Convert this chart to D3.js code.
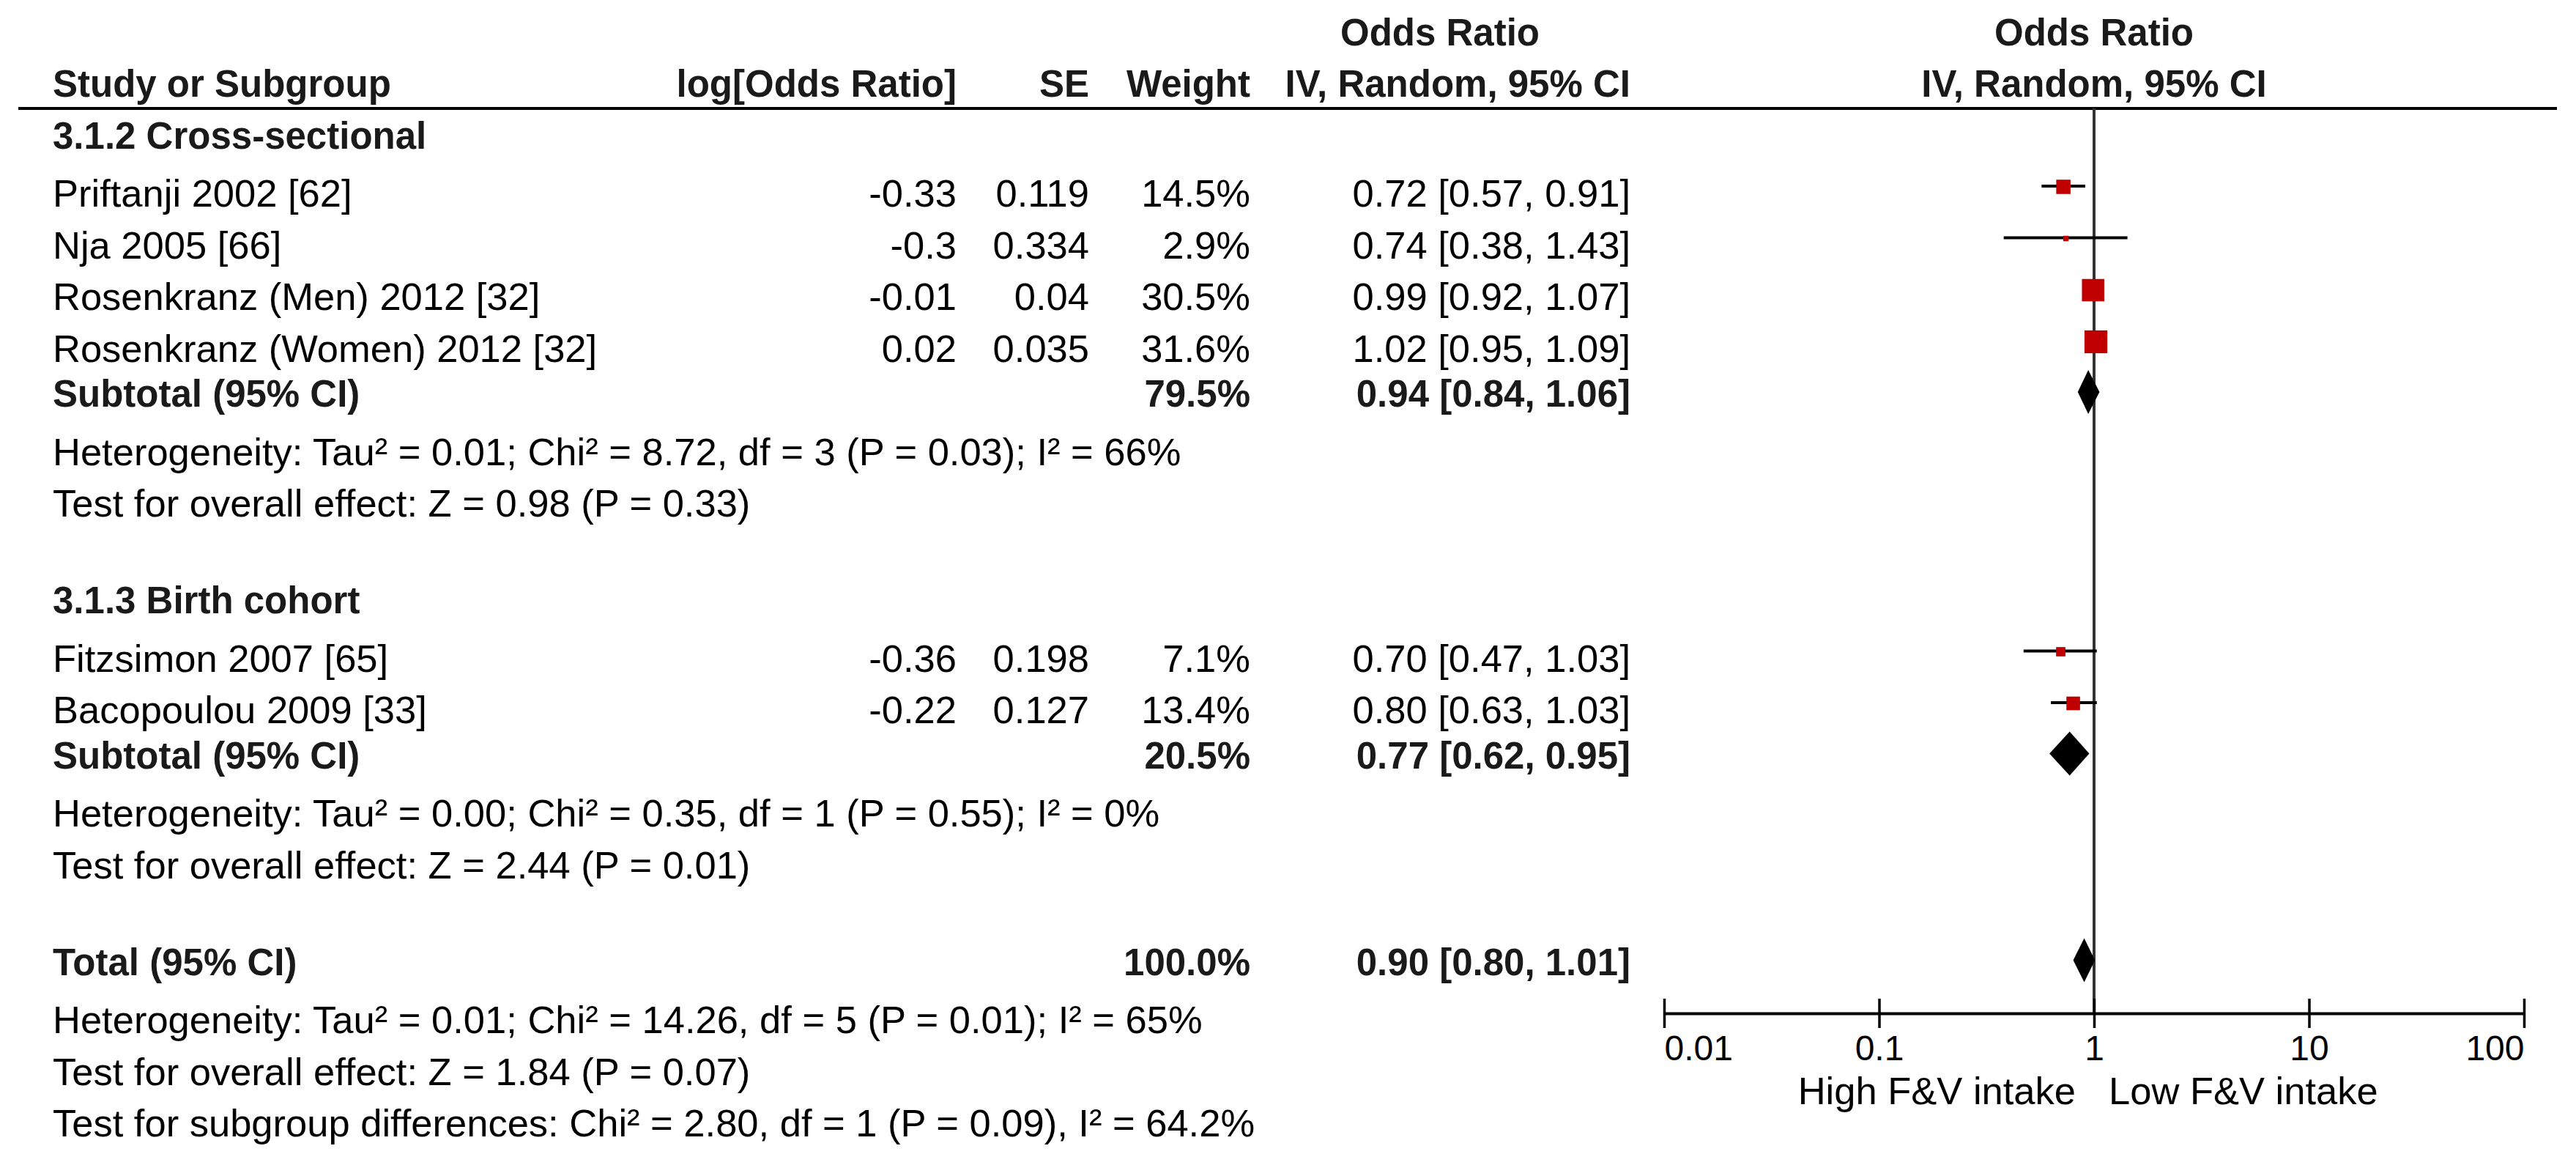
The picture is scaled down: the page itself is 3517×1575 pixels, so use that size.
<!DOCTYPE html>
<html lang="en">
  <head>
    <meta charset="utf-8">
    <title>Forest plot - F&amp;V intake</title>
    <script src="https://cdn.jsdelivr.net/npm/d3@7"></script>
    <style type="text/css">
      body { margin: 0; background: #fff; }
      text { font-family: "Liberation Sans", Arial, sans-serif; }
      .reg { font-size: 52.5px; fill: #000; }
      .bold { font-size: 51px; font-weight: bold; fill: #1a1a1a; }
      .tickLabel { font-size: 48px; fill: #000; }
      .ci { stroke: #000; stroke-width: 4; }
      .box { fill: #c00000; }
      .diamond { fill: #000; }
    </style>
  </head>
  <body>
    <svg id="plot" width="3517" height="1575"></svg>
    <script type="text/javascript">
      // study rows
      var studyNames = ["Priftanji 2002 [62]", "Nja 2005 [66]", "Rosenkranz (Men) 2012 [32]",
                        "Rosenkranz (Women) 2012 [32]", "Fitzsimon 2007 [65]", "Bacopoulou 2009 [33]"];
      var studyGroup = [0, 0, 0, 0, 1, 1];
      var logOR = [-0.33, -0.3, -0.01, 0.02, -0.36, -0.22];
      var seVals = [0.119, 0.334, 0.04, 0.035, 0.198, 0.127];
      var weights = [14.5, 2.9, 30.5, 31.6, 7.1, 13.4];
      var orVals = [0.72, 0.74, 0.99, 1.02, 0.70, 0.80];
      var orLow = [0.57, 0.38, 0.92, 0.95, 0.47, 0.63];
      var orHigh = [0.91, 1.43, 1.07, 1.09, 1.03, 1.03];

      // subgroups
      var groupNames = ["3.1.2 Cross-sectional", "3.1.3 Birth cohort"];
      var subWeight = [79.5, 20.5];
      var subOR = [0.94, 0.77];
      var subLow = [0.84, 0.62];
      var subHigh = [1.06, 0.95];
      var hetTau = ["0.01", "0.00"];
      var hetChi = ["8.72", "0.35"];
      var hetDf = [3, 1];
      var hetP = ["0.03", "0.55"];
      var hetI2 = ["66%", "0%"];
      var effZ = ["0.98", "2.44"];
      var effP = ["0.33", "0.01"];

      // overall
      var totalWeight = 100.0;
      var totalOR = 0.90, totalLow = 0.80, totalHigh = 1.01;
      var totalHet = {tau: "0.01", chi: "14.26", df: 5, p: "0.01", i2: "65%"};
      var totalEff = {z: "1.84", p: "0.07"};
      var diffTest = {chi: "2.80", df: 1, p: "0.09", i2: "64.2%"};

      // axis
      var axisTicks = [0.01, 0.1, 1, 10, 100];
      var axisTickLabels = ["0.01", "0.1", "1", "10", "100"];
      var favourLeft = "High F&V intake", favourRight = "Low F&V intake";

      var svg = d3.select("#plot");
      var fmt2 = d3.format(".2f"), fmtW = function(w) { return d3.format(".1f")(w) + "%"; };

      // work out which row everything sits on
      var row = 2, titleRow = [], studyRow = [], subRow = [], hetRow = [], testRow = [];
      groupNames.forEach(function(g, gi) {
        titleRow[gi] = row++;
        studyGroup.forEach(function(sg, si) { if (sg === gi) studyRow[si] = row++; });
        subRow[gi] = row++;
        hetRow[gi] = row++;
        testRow[gi] = row++;
        row++; // blank line
      });
      var totalRow = row++, totalHetRow = row++, totalTestRow = row++, diffRow = row++;

      var y = d3.scaleLinear().domain([0, 21]).range([42.5, 42.5 + 21 * 70.5]);
      var x = d3.scaleLog().domain([0.01, 100]).range([2272, 3446]);
      var size = d3.scalePow().exponent(0.6).domain([0, 30.5]).range([0, 30.5]);

      var col = {name: 72, logor: 1306, se: 1487, weight: 1707, ci: 2226, orHead: 1966},
          headLineY = 148,
          axisY = 1383;

      function addText(str, xPos, r, bold, anchor) {
        return svg.append("text")
          .attr("class", bold ? "bold" : "reg")
          .attr("x", xPos)
          .attr("y", y(r) + (bold ? 19 : 28))
          .attr("text-anchor", anchor || "start")
          .text(str);
      }
      function ciText(o, l, h) { return fmt2(o) + " [" + fmt2(l) + ", " + fmt2(h) + "]"; }
      function hetText(t, c, df, p, i2) {
        return "Heterogeneity: Tau\u00b2 = " + t + "; Chi\u00b2 = " + c + ", df = " + df +
               " (P = " + p + "); I\u00b2 = " + i2;
      }
      function effText(z, p) { return "Test for overall effect: Z = " + z + " (P = " + p + ")"; }

      // headers
      addText("Odds Ratio", col.orHead, 0, true, "middle");
      addText("Odds Ratio", x(1), 0, true, "middle");
      addText("Study or Subgroup", col.name, 1, true);
      addText("log[Odds Ratio]", col.logor, 1, true, "end");
      addText("SE", col.se, 1, true, "end");
      addText("Weight", col.weight, 1, true, "end");
      addText("IV, Random, 95% CI", col.ci, 1, true, "end");
      addText("IV, Random, 95% CI", x(1), 1, true, "middle");

      svg.append("line")
        .attr("x1", 25).attr("x2", 3491)
        .attr("y1", headLineY).attr("y2", headLineY)
        .attr("stroke", "#000").attr("stroke-width", 4);

      // null line
      svg.append("line")
        .attr("x1", x(1)).attr("x2", x(1))
        .attr("y1", headLineY).attr("y2", axisY)
        .attr("stroke", "#333").attr("stroke-width", 4);

      // subgroup text blocks
      groupNames.forEach(function(g, gi) {
        addText(g, col.name, titleRow[gi], true);
        addText("Subtotal (95% CI)", col.name, subRow[gi], true);
        addText(fmtW(subWeight[gi]), col.weight, subRow[gi], true, "end");
        addText(ciText(subOR[gi], subLow[gi], subHigh[gi]), col.ci, subRow[gi], true, "end");
        addText(hetText(hetTau[gi], hetChi[gi], hetDf[gi], hetP[gi], hetI2[gi]), col.name, hetRow[gi], false);
        addText(effText(effZ[gi], effP[gi]), col.name, testRow[gi], false);
      });

      // study text columns
      studyNames.forEach(function(s, i) {
        var r = studyRow[i];
        addText(s, col.name, r, false);
        addText(String(logOR[i]), col.logor, r, false, "end");
        addText(String(seVals[i]), col.se, r, false, "end");
        addText(fmtW(weights[i]), col.weight, r, false, "end");
        addText(ciText(orVals[i], orLow[i], orHigh[i]), col.ci, r, false, "end");
      });

      // totals
      addText("Total (95% CI)", col.name, totalRow, true);
      addText(fmtW(totalWeight), col.weight, totalRow, true, "end");
      addText(ciText(totalOR, totalLow, totalHigh), col.ci, totalRow, true, "end");
      addText(hetText(totalHet.tau, totalHet.chi, totalHet.df, totalHet.p, totalHet.i2), col.name, totalHetRow, false);
      addText(effText(totalEff.z, totalEff.p), col.name, totalTestRow, false);
      addText("Test for subgroup differences: Chi\u00b2 = " + diffTest.chi + ", df = " + diffTest.df +
              " (P = " + diffTest.p + "), I\u00b2 = " + diffTest.i2, col.name, diffRow, false);

      // study CIs and boxes
      var idx = d3.range(studyNames.length);
      svg.selectAll(".ci")
        .data(idx)
        .enter().append("line")
          .attr("class", "ci")
          .attr("x1", function(i) { return x(orLow[i]); })
          .attr("x2", function(i) { return x(orHigh[i]); })
          .attr("y1", function(i) { return y(studyRow[i]); })
          .attr("y2", function(i) { return y(studyRow[i]); });

      svg.selectAll(".box")
        .data(idx)
        .enter().append("rect")
          .attr("class", "box")
          .attr("x", function(i) { return x(orVals[i]) - size(weights[i]) / 2; })
          .attr("y", function(i) { return y(studyRow[i]) - size(weights[i]) / 2 + 1; })
          .attr("width", function(i) { return size(weights[i]); })
          .attr("height", function(i) { return size(weights[i]); });

      // diamonds
      var diamonds = groupNames.map(function(g, gi) {
        return {o: subOR[gi], l: subLow[gi], h: subHigh[gi], r: subRow[gi]};
      });
      diamonds.push({o: totalOR, l: totalLow, h: totalHigh, r: totalRow});
      svg.selectAll(".diamond")
        .data(diamonds)
        .enter().append("polygon")
          .attr("class", "diamond")
          .attr("points", function(d) {
            var cy = y(d.r) - 1;
            return [[x(d.l), cy], [x(d.o), cy - 30], [x(d.h), cy], [x(d.o), cy + 30]].join(" ");
          });

      // axis
      var axis = d3.axisBottom(x)
        .tickValues(axisTicks)
        .tickFormat(function(d, i) { return axisTickLabels[i]; })
        .tickSizeOuter(0);

      var ax = svg.append("g")
        .attr("transform", "translate(0," + axisY + ")")
        .call(axis)
        .attr("font-family", null)
        .attr("font-size", null);

      ax.select(".domain").attr("stroke", "#000").attr("stroke-width", 4);
      ax.selectAll(".tick line")
        .attr("y1", -20).attr("y2", 20)
        .attr("stroke", "#000").attr("stroke-width", 3.5);
      ax.selectAll(".tick text")
        .attr("class", "tickLabel")
        .attr("fill", null)
        .attr("y", 64)
        .attr("dy", null)
        .attr("text-anchor", function(d, i) {
          return i === 0 ? "start" : (i === axisTicks.length - 1 ? "end" : "middle");
        });

      svg.append("text")
        .attr("class", "reg")
        .attr("x", x(1) - 25)
        .attr("y", axisY + 124)
        .attr("text-anchor", "end")
        .text(favourLeft);

      svg.append("text")
        .attr("class", "reg")
        .attr("x", x(1) + 20)
        .attr("y", axisY + 124)
        .text(favourRight);
    </script>
  </body>
</html>
